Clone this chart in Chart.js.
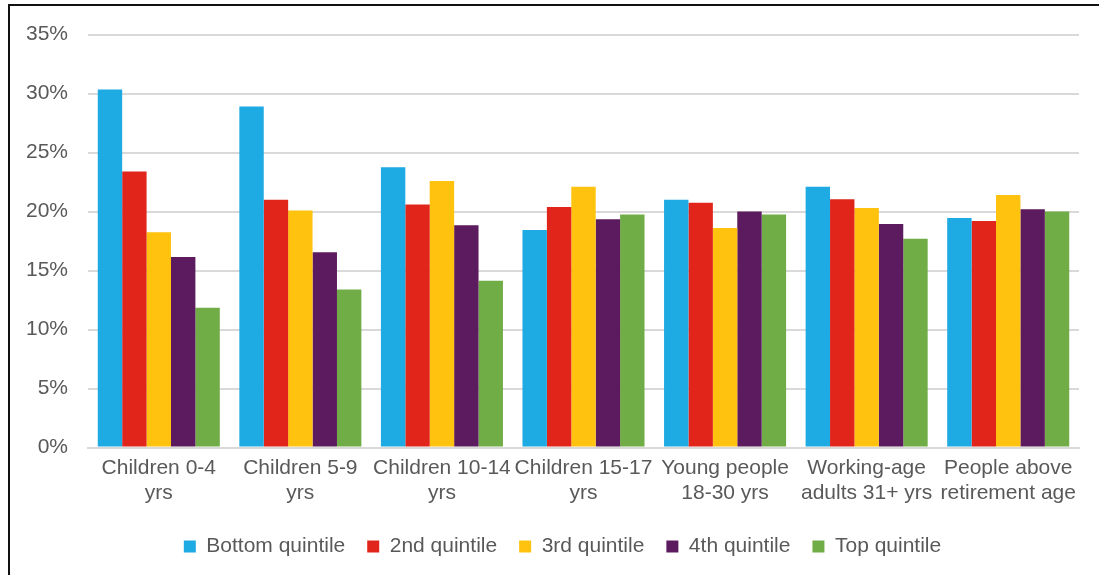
<!DOCTYPE html>
<html>
<head>
<meta charset="utf-8">
<script src="https://cdn.jsdelivr.net/npm/chart.js@4"></script>
<style>
  html, body { margin: 0; padding: 0; background: #fff; }
  body { width: 1099px; height: 575px; overflow: hidden; position: relative; }
  #frame {
    position: absolute; left: 8px; top: 4px; width: 1091px; height: 571px;
    border-top: 2px solid #111; border-left: 2px solid #111; box-sizing: border-box;
  }
  #wrap { position: absolute; left: 10px; top: 2px; width: 1089px; height: 573px; }
</style>
</head>
<body>
<div id="frame"></div>
<div id="wrap"><canvas id="chart"></canvas></div>
<script>
// categorias (etiquetas en dos lineas)
const categories = [
    ['Children 0-4', 'yrs'],
    ['Children 5-9', 'yrs'],
    ['Children 10-14', 'yrs'],
    ['Children 15-17', 'yrs'],
    ['Young people', '18-30 yrs'],
    ['Working-age', 'adults 31+ yrs'],
    ['People above', 'retirement age']
];

const seriesNames = ['Bottom quintile', '2nd quintile', '3rd quintile', '4th quintile', 'Top quintile'];

// valores en %
const bottomQuintile = [30.35, 28.9, 23.75, 18.45, 21.0, 22.1, 19.45];
const secondQuintile = [23.4, 21.0, 20.6, 20.4, 20.75, 21.05, 19.2];
const thirdQuintile  = [18.25, 20.1, 22.6, 22.1, 18.6, 20.3, 21.4];
const fourthQuintile = [16.15, 16.55, 18.85, 19.35, 20.0, 18.95, 20.2];
const topQuintile    = [11.85, 13.4, 14.15, 19.75, 19.75, 17.7, 20.0];

const yTicks = [0, 5, 10, 15, 20, 25, 30, 35];

const colors = ['#1eaae2', '#e1251b', '#ffc20e', '#5c1a5f', '#70ad47'];
const seriesData = [bottomQuintile, secondQuintile, thirdQuintile, fourthQuintile, topQuintile];

const textColor = '#595959';
const font = { family: '"Liberation Sans", Arial, sans-serif', size: 21 };

// desplaza la leyenda un poco a la derecha, como en el original
const legendShift = {
    id: 'legendShift',
    afterLayout(chart) {
        chart.legend.left += 18;
        chart.legend.right += 18;
    }
};

const ctx = document.getElementById('chart').getContext('2d');

new Chart(ctx, {
    type: 'bar',
    data: {
        labels: categories,
        datasets: seriesNames.map((name, i) => ({
            label: name,
            data: seriesData[i],
            backgroundColor: colors[i],
            borderWidth: 0,
            categoryPercentage: 0.862,
            barPercentage: 1.0
        }))
    },
    plugins: [legendShift],
    options: {
        responsive: true,
        maintainAspectRatio: false,
        animation: false,
        layout: { padding: { top: 24, right: 20, left: 0, bottom: 8 } },
        plugins: {
            tooltip: { enabled: false },
            legend: {
                position: 'bottom',
                labels: {
                    color: textColor,
                    font: font,
                    boxWidth: 12,
                    boxHeight: 12,
                    padding: 22
                }
            }
        },
        scales: {
            x: {
                grid: { display: false, drawTicks: false },
                border: { color: '#d9d9d9', width: 2 },
                ticks: {
                    color: textColor,
                    font: font,
                    padding: 8,
                    autoSkip: false,
                    maxRotation: 0,
                    minRotation: 0
                }
            },
            y: {
                min: 0,
                max: 35,
                afterBuildTicks: function(scale) {
                    scale.ticks = yTicks.map(v => ({ value: v }));
                },
                afterFit: function(scale) {
                    scale.width = 78;
                },
                grid: { color: '#d9d9d9', lineWidth: 2, drawTicks: false },
                border: { display: false },
                ticks: {
                    color: textColor,
                    font: font,
                    padding: 20,
                    callback: v => v + '%'
                }
            }
        }
    }
});
</script>
</body>
</html>
